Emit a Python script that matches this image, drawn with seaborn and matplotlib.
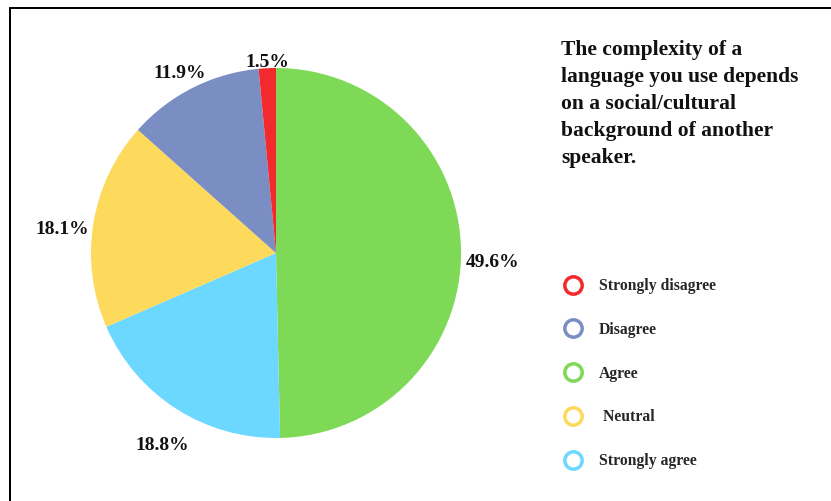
import matplotlib
matplotlib.use("Agg")
import matplotlib.pyplot as plt
from matplotlib.lines import Line2D
import numpy as np
import seaborn as sns

# Survey responses (share of respondents, %)
categories = ["Agree", "Strongly agree", "Neutral", "Disagree", "Strongly disagree"]
shares = [49.6, 18.8, 18.1, 11.9, 1.5]
legend_order = ["Strongly disagree", "Disagree", "Agree", "Neutral", "Strongly agree"]
legend_labels = ["Strongly disagree", "Disagree", "Agree", " Neutral", "Strongly agree"]
title_text = ("The complexity of a\nlanguage you use depends\non a social/cultural\n"
              "background of another\nspeaker.")

palette = {
    "Agree": "#7ed957",
    "Strongly agree": "#6dd8ff",
    "Neutral": "#fdd95c",
    "Disagree": "#7a8ec3",
    "Strongly disagree": "#f2292d",
}
# placement of each percentage label: (distance in pie radii, angular nudge in degrees)
label_place = {
    "Agree": (1.17, -3.1),
    "Strongly agree": (1.21, 2.1),
    "Neutral": (1.16, 2.8),
    "Disagree": (1.10, 1.3),
    "Strongly disagree": (1.03, 0.0),
}

sns.set_theme(style="white")
plt.rcParams["font.family"] = ["Liberation Serif", "DejaVu Serif"]
plt.rcParams["font.weight"] = "bold"

W, H = 831, 501
fig = plt.figure(figsize=(W / 100, H / 100), dpi=100)
fig.patch.set_facecolor("white")

# pie axes: centre at (276, 253) px, radius 185 px
cx, cy, r = 276, 253, 185
ax = fig.add_axes([(cx - r) / W, (H - cy - r) / H, 2 * r / W, 2 * r / H])
wedges, _ = ax.pie(
    shares,
    colors=[palette[c] for c in categories],
    startangle=90,
    counterclock=False,
    wedgeprops=dict(linewidth=0),
)
ax.set_xlim(-1, 1)
ax.set_ylim(-1, 1)
ax.set_aspect("equal")
ax.axis("off")

for w, cat, val in zip(wedges, categories, shares):
    d, nudge = label_place[cat]
    ang = np.deg2rad((w.theta1 + w.theta2) / 2 + nudge)
    ax.text(d * np.cos(ang), d * np.sin(ang), f"{val}%",
            ha="center", va="center", fontsize=14, fontweight="bold",
            color="#111111", clip_on=False)

# question text
fig.text(561 / W, 1 - 40 / H, title_text, ha="left", va="top",
         fontsize=15.5, fontweight="bold", color="#111111", linespacing=1.46)

# legend with ring markers
handles = [
    Line2D([], [], linestyle="none", marker="o", markersize=12.5,
           markerfacecolor="white", markeredgecolor=palette[c], markeredgewidth=2.5)
    for c in legend_order
]
fig.legend(handles, legend_labels, loc="upper left",
           bbox_to_anchor=(565 / W, 1 - 278 / H), frameon=False,
           fontsize=11.3, labelspacing=1.77, handlelength=1.0, handletextpad=1.15,
           borderaxespad=0, borderpad=0)

# outer frame (top and left rules)
lw = 2 * 72 / 100
fig.add_artist(Line2D([10 / W, 1], [1 - 8 / H, 1 - 8 / H], color="black",
                      linewidth=lw, transform=fig.transFigure))
fig.add_artist(Line2D([10 / W, 10 / W], [0, 1 - 8 / H], color="black",
                      linewidth=lw, transform=fig.transFigure))

fig.savefig("out.png", dpi=100, facecolor="white")
